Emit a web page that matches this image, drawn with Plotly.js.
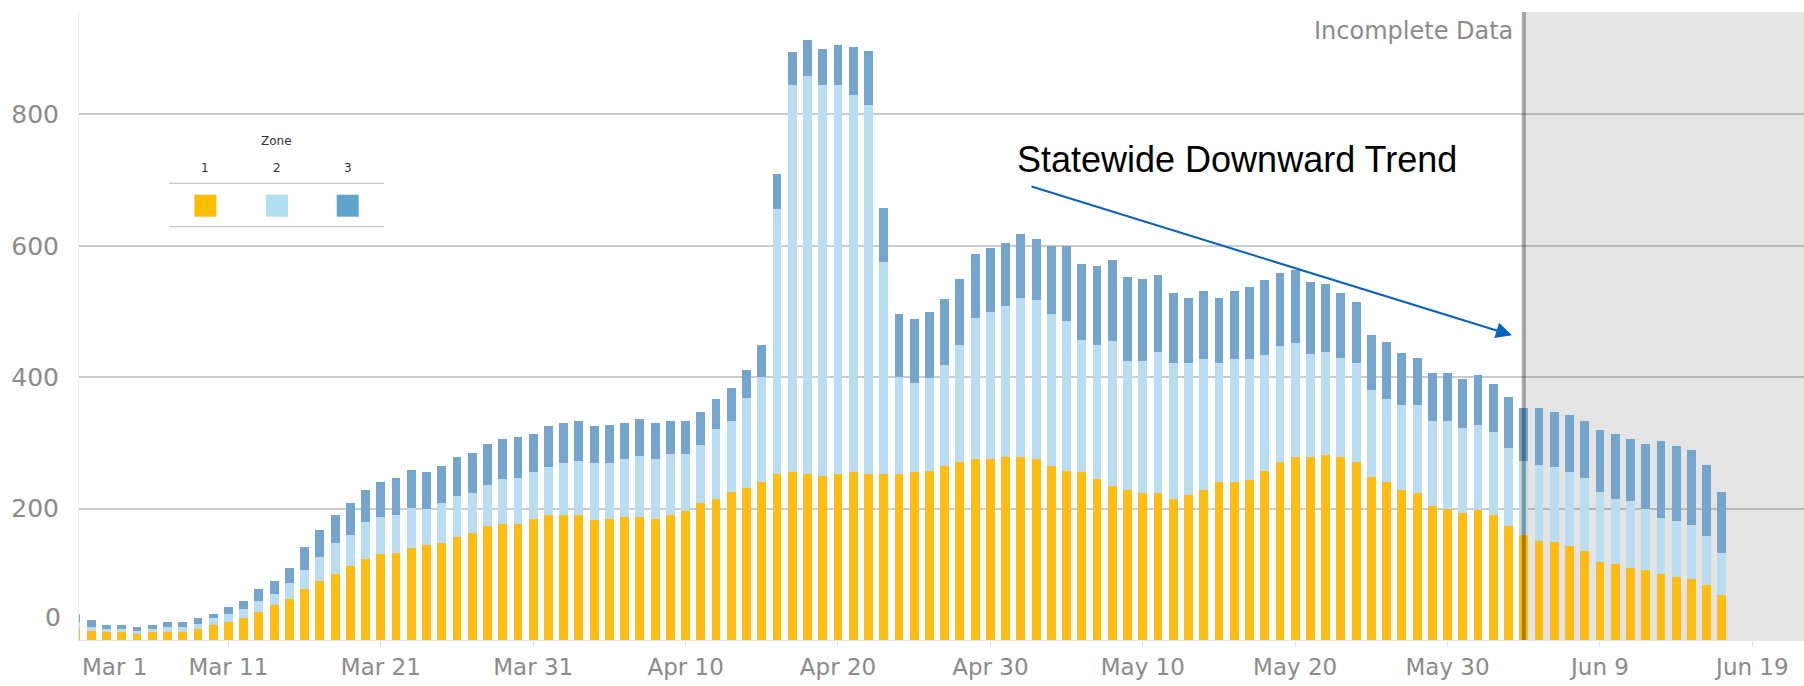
<!DOCTYPE html>
<html>
<head>
<meta charset="utf-8">
<script src="https://cdn.plot.ly/plotly-3.0.1.min.js"></script>
<style>html,body{margin:0;padding:0;background:#fff;}#chart{width:1804px;height:686px;}</style>
</head>
<body>
<div id="chart"></div>
<script>
// ---- data ----
const dates = [
'2020-03-01','2020-03-02','2020-03-03','2020-03-04','2020-03-05','2020-03-06','2020-03-07','2020-03-08','2020-03-09','2020-03-10',
'2020-03-11','2020-03-12','2020-03-13','2020-03-14','2020-03-15','2020-03-16','2020-03-17','2020-03-18','2020-03-19','2020-03-20',
'2020-03-21','2020-03-22','2020-03-23','2020-03-24','2020-03-25','2020-03-26','2020-03-27','2020-03-28','2020-03-29','2020-03-30','2020-03-31',
'2020-04-01','2020-04-02','2020-04-03','2020-04-04','2020-04-05','2020-04-06','2020-04-07','2020-04-08','2020-04-09','2020-04-10',
'2020-04-11','2020-04-12','2020-04-13','2020-04-14','2020-04-15','2020-04-16','2020-04-17','2020-04-18','2020-04-19','2020-04-20',
'2020-04-21','2020-04-22','2020-04-23','2020-04-24','2020-04-25','2020-04-26','2020-04-27','2020-04-28','2020-04-29','2020-04-30',
'2020-05-01','2020-05-02','2020-05-03','2020-05-04','2020-05-05','2020-05-06','2020-05-07','2020-05-08','2020-05-09','2020-05-10',
'2020-05-11','2020-05-12','2020-05-13','2020-05-14','2020-05-15','2020-05-16','2020-05-17','2020-05-18','2020-05-19','2020-05-20',
'2020-05-21','2020-05-22','2020-05-23','2020-05-24','2020-05-25','2020-05-26','2020-05-27','2020-05-28','2020-05-29','2020-05-30','2020-05-31',
'2020-06-01','2020-06-02','2020-06-03','2020-06-04','2020-06-05','2020-06-06','2020-06-07','2020-06-08','2020-06-09','2020-06-10',
'2020-06-11','2020-06-12','2020-06-13','2020-06-14','2020-06-15','2020-06-16','2020-06-17'
];

const zone1 = [
19,13,12,12,9,12,12,12,16,23, 27,33,43,53,63,77,90,100,113,123, 131,133,140,144,147,157,163,174,177,177,184,
190,191,190,182,184,187,187,184,190,197, 208,214,225,231,241,253,255,253,249,253, 255,253,253,253,255,258,265,271,275,275,
279,279,275,265,258,255,245,235,228,224, 224,214,221,228,240,240,244,257,271,278, 278,282,278,271,248,240,228,224,204,200,194,
198,191,174,160,150,149,143,136,119,116, 109,106,100,96,93,83,69
];

const zone2 = [
8,7,4,4,5,4,8,8,8,10, 13,14,17,17,24,30,37,47,47,56, 57,58,61,56,62,62,61,62,68,69,72,
74,79,83,88,86,89,93,92,93,86, 89,107,108,137,160,403,590,606,596,592, 574,562,322,148,136,141,154,178,215,225,
229,241,242,231,228,201,204,220,196,200, 214,207,200,200,181,188,184,177,177,174, 157,156,151,150,133,127,129,133,129,133,129,
129,125,118,113,116,114,113,110,106,99, 102,93,85,85,82,75,64
];

const zone3 = [
12,10,7,7,6,7,7,7,9,7, 10,13,17,20,23,34,41,44,48,50, 53,55,58,55,56,60,61,63,61,63,57,
62,60,60,56,57,54,57,54,50,50, 50,46,51,43,48,53,50,54,54,61, 74,81,83,95,98,100,100,101,98,97,
97,98,94,104,114,117,121,124,128,125, 117,107,100,104,100,104,110,114,110,111, 110,104,99,94,83,86,80,73,74,74,74,
76,74,78,80,87,84,87,87,94,98, 95,100,118,115,114,108,92
];

const zoneNames = ['1', '2', '3'];
const legendTitle = 'Zone';

const xTickVals = ['2020-03-01','2020-03-11','2020-03-21','2020-03-31','2020-04-10','2020-04-20','2020-04-30',
                   '2020-05-10','2020-05-20','2020-05-30','2020-06-09','2020-06-19'];
const xTickText = ['Mar 1','Mar 11','Mar 21','Mar 31','Apr 10','Apr 20','Apr 30',
                   'May 10','May 20','May 30','Jun 9','Jun 19'];
const yTickVals = [0, 200, 400, 600, 800];
const yTickText = ['0', '200', '400', '600', '800'];

const incompleteStart = '2020-06-04';
const incompleteLabel = 'Incomplete Data';
const trendLabel = 'Statewide Downward Trend';

// ---- styles ----
const barColors = ['#FFBC12', '#B9DDF1', '#74A6CD'];
const swatchColors = ['#FFBD00', '#B0DEF2', '#5EA5CC'];
const tickColor = '#8b8b8b';

const traces = [zone1, zone2, zone3].map((vals, i) => ({
  type: 'bar', x: dates, y: vals, name: zoneNames[i],
  marker: {color: barColors[i], line: {width: 0}},
  hoverinfo: 'skip'
}));

// plot area pixel helpers (for the legend box, which is decoration)
const L = 79, W = 1725, T = 12, H = 628;
const px = v => (v - L) / W;
const py = v => (T + H - v) / H;

const shapes = [
  {type:'rect', xref:'x', yref:'paper', x0:incompleteStart, x1:'2020-07-15', y0:0, y1:1,
   fillcolor:'#e4e4e4', line:{width:0}, layer:'below'},
  {type:'line', xref:'x', yref:'paper', x0:incompleteStart, x1:incompleteStart, y0:0, y1:1,
   line:{color:'rgba(0,0,0,0.33)', width:4}, layer:'above'},
  {type:'line', xref:'paper', yref:'paper', x0:px(169), x1:px(384), y0:py(183.3), y1:py(183.3),
   line:{color:'#cccccc', width:1.3}},
  {type:'line', xref:'paper', yref:'paper', x0:px(169), x1:px(384), y0:py(226.7), y1:py(226.7),
   line:{color:'#cccccc', width:1.3}}
];
const swatchX = [205.3, 277, 347.7];
swatchX.forEach((cx, i) => {
  shapes.push({type:'rect', xref:'paper', yref:'paper', x0:px(cx-11), x1:px(cx+11), y0:py(216.7), y1:py(194.7),
    fillcolor:swatchColors[i], line:{width:0}});
});

const annotations = [
  {xref:'paper', yref:'paper', x:px(276.7), y:py(140.7), text:legendTitle, showarrow:false,
   xanchor:'center', yanchor:'middle', font:{family:'DejaVu Sans', size:12, color:'#333'}},
  ...swatchX.map((cx, i) => ({xref:'paper', yref:'paper', x:px(cx), y:py(167.7), text:zoneNames[i], showarrow:false,
   xanchor:'center', yanchor:'middle', font:{family:'DejaVu Sans', size:12, color:'#333'}})),
  // first x tick label, kept inside the plot like the original
  {xref:'paper', yref:'paper', x:0, y:0, text:xTickText[0], showarrow:false, xanchor:'left', yanchor:'top',
   xshift:1, yshift:-12, font:{family:'DejaVu Sans', size:23, color:tickColor}},
  // zero y tick label, lifted above the baseline like the original
  {xref:'paper', yref:'y', x:0, y:yTickVals[0], text:yTickText[0], showarrow:false, xanchor:'right', yanchor:'middle',
   xshift:-16, yshift:23, font:{family:'DejaVu Sans', size:25, color:tickColor}},
  {xref:'x', yref:'paper', x:incompleteStart, y:1, text:incompleteLabel, showarrow:false, xanchor:'right', yanchor:'top',
   xshift:-9, yshift:-3, font:{family:'DejaVu Sans', size:24, color:tickColor}},
  {xref:'x', yref:'y', x:'2020-05-01 14:30', y:731, text:trendLabel, showarrow:false, xanchor:'left', yanchor:'middle',
   font:{family:'Liberation Sans, Arial, sans-serif', size:36, color:'#000'}},
  {xref:'x', yref:'y', x:'2020-06-03 05:30', y:464, axref:'x', ayref:'y', ax:'2020-05-02 14:24', ay:691,
   text:'', showarrow:true, arrowhead:2, arrowsize:1.6, arrowwidth:2, arrowcolor:'#0563C1', standoff:0, startstandoff:0}
];

const layout = {
  width:1804, height:686,
  margin:{l:L, r:0, t:T, b:686 - T - H, pad:0},
  paper_bgcolor:'#ffffff', plot_bgcolor:'#ffffff',
  barmode:'stack', bargap:0.42, showlegend:false,
  font:{family:'DejaVu Sans, sans-serif', color:tickColor},
  xaxis:{type:'date', range:['2020-03-01 04:43','2020-06-22 09:20'],
    tickmode:'array', tickvals:xTickVals, ticktext:xTickText,
    tickfont:{family:'DejaVu Sans', size:23, color:tickColor},
    ticks:'outside', ticklen:6, tickcolor:'#e3e3e3', tickwidth:1,
    showgrid:false, zeroline:false, showline:true, linecolor:'#e6e6e6', linewidth:1, fixedrange:true},
  yaxis:{range:[0, 956], tickmode:'array', tickvals:yTickVals.slice(1), ticktext:yTickText.slice(1),
    tickfont:{family:'DejaVu Sans', size:25, color:tickColor},
    ticks:'', ticklabelstandoff:14,
    showgrid:true, gridcolor:'rgba(0,0,0,0.2)', gridwidth:2,
    zeroline:false, showline:true, linecolor:'#ececec', linewidth:1, fixedrange:true},
  shapes: shapes,
  annotations: annotations
};

Plotly.newPlot('chart', traces, layout, {staticPlot:true, displayModeBar:false});
</script>
</body>
</html>
